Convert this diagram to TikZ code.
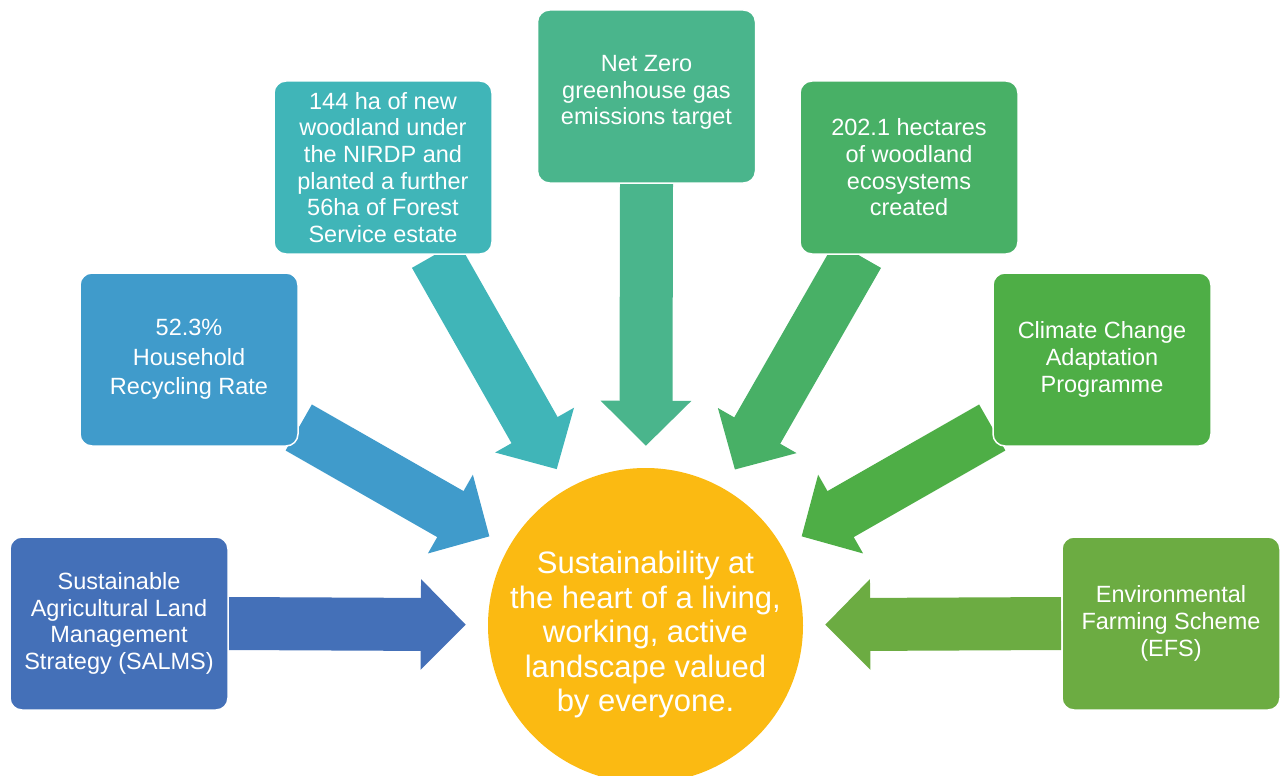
\documentclass[tikz,border=0pt]{standalone}
\usepackage{fontspec}
\setmainfont{Liberation Sans}
\usetikzlibrary{arrows.meta,backgrounds}

\definecolor{cSalms}{RGB}{68,112,184}
\definecolor{cRecyc}{RGB}{64,155,203}
\definecolor{cWood}{RGB}{64,181,184}
\definecolor{cZero}{RGB}{74,181,140}
\definecolor{cEco}{RGB}{72,176,102}
\definecolor{cClimate}{RGB}{78,174,70}
\definecolor{cEfs}{RGB}{108,172,66}
\definecolor{cHeart}{RGB}{251,186,18}

\begin{document}
\begin{tikzpicture}[x=1pt,y=-1pt]
            \tikzset{box/.style = {rectangle, rounded corners=12pt, draw=white, line width=1.5pt,
                minimum width=218pt, minimum height=173pt, inner sep=0pt, align=center,
                text=white, font=\fontsize{23.5}{26.7}\selectfont}}
            \tikzset{fat/.style = {line width=53pt, -{Triangle[width=88pt,length=45pt]}, shorten >=22pt}}
            \useasboundingbox (0,0) rectangle (1280,776);

            % boxes
            \node[box, fill=cSalms] (salms) at (119,623.5) {Sustainable\\Agricultural Land\\Management\\Strategy (SALMS)};
            \node[box, fill=cRecyc, font=\fontsize{23.5}{29.5}\selectfont] (recyc) at (189,359.5) {52.3\%\\Household\\Recycling Rate};
            \node[box, fill=cWood] (wood) at (383,167.5) {144 ha of new\\woodland under\\the NIRDP and\\planted a further\\56ha of Forest\\Service estate};
            \node[box, fill=cZero] (zero) at (646.5,96.5) {Net Zero\\greenhouse gas\\emissions target\rule[-13pt]{0pt}{0pt}};
            \node[box, fill=cEco] (eco) at (909,167.5) {202.1 hectares\\of woodland\\ecosystems\\created};
            \node[box, fill=cClimate] (climate) at (1102,359.5) {Climate Change\\Adaptation\\Programme};
            \node[box, fill=cEfs] (efs) at (1171,623.5) {Environmental\\Farming Scheme\\(EFS)};

            % centre
            \node[circle, fill=cHeart, minimum size=315pt, inner sep=0pt] (heart) at (645.5,625.5) {};
            \node[align=center, text=white, font=\fontsize{31}{34.5}\selectfont] (hearttext)
                  at ([yshift=-9pt]heart.center)
                  {Sustainability at\\the heart of a living,\\working, active\\landscape valued\\by everyone.};

            % arrows
            \coordinate (recycfoot) at ([yshift=-68pt]recyc.east);
            \coordinate (woodfoot) at ([xshift=52pt]wood.south);
            \coordinate (ecofoot) at ([xshift=-51pt]eco.south);
            \coordinate (climatefoot) at ([yshift=-68pt]climate.west);
            \begin{scope}[on background layer]
              \foreach \from/\col in {salms.east/cSalms, recycfoot/cRecyc, woodfoot/cWood, zero.south/cZero,
                                      ecofoot/cEco, climatefoot/cClimate, efs.west/cEfs}
              {\draw[fat, \col] (\from) -- (heart);}
            \end{scope}

          \end{tikzpicture}
\end{document}
